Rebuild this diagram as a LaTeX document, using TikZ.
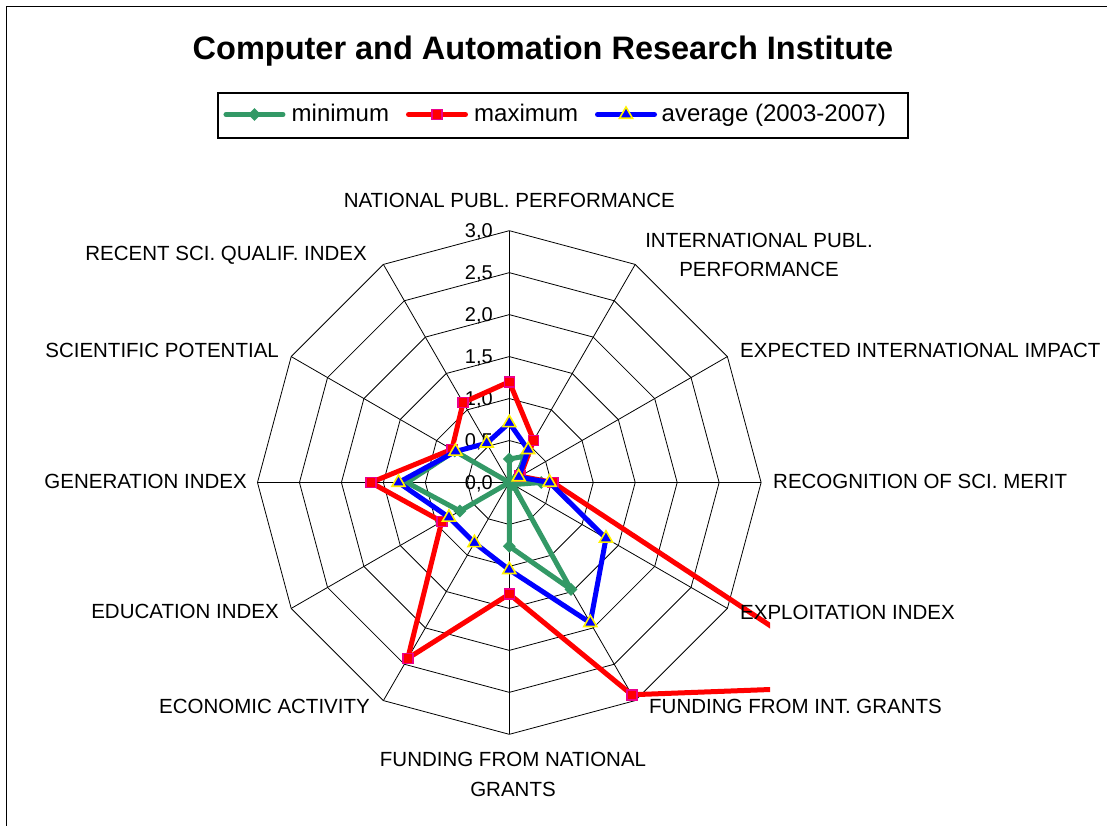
\documentclass[tikz,border=0pt]{standalone}
\usepackage{fontspec}
\setmainfont{Liberation Sans}
\usetikzlibrary{shapes.geometric}
\usetikzlibrary{positioning}
\definecolor{mingreen}{RGB}{51,153,102}
\tikzset{
    gridline/.style={
           draw=black,
           line width=0.8pt,
           },
    axislabel/.style={
           font=\fontsize{20.5}{29.5}\selectfont,
           inner sep=0pt,
           align=center,
           },
    ticklabel/.style={
           font=\fontsize{20}{24}\selectfont,
           inner sep=0pt,
           anchor=east,
           },
    legendtext/.style={
           font=\fontsize{24}{28}\selectfont,
           inner sep=0pt,
           anchor=base west,
           },
    minline/.style={draw=mingreen, line width=5pt, line join=round, line cap=round},
    maxline/.style={draw=red, line width=5pt, line join=round, line cap=round},
    avgline/.style={draw=blue, line width=5pt, line join=round, line cap=round},
    mindot/.style={diamond, fill=mingreen, inner sep=0pt, minimum size=13pt},
    maxdot/.style={rectangle, fill=red, draw=magenta, line width=1.6pt,
           inner sep=0pt, minimum size=10pt},
    avgdot/.style={regular polygon, regular polygon sides=3, fill=blue, draw=yellow,
           line width=1.6pt, inner sep=0pt, minimum size=15pt},
}

\begin{document}
\begin{tikzpicture}[x=1pt,y=1pt]
  \useasboundingbox (-509.3,-342.5) rectangle (597.7,482.5);

  % chart frame (only top and left edge lie on the page)
  \draw[line width=1.6pt] (-502.6,-400) |- (700,475.8);

  % title
  \node[font=\fontsize{32.5}{38}\selectfont\bfseries, anchor=base] (TITLE) at (33.7,423.4)
    {Computer and Automation Research Institute};

  % legend
  \node[draw=black, line width=1.2pt, minimum width=690pt, minimum height=45pt,
        inner sep=0pt] (LEGEND) at (53.7,367) {};
  \coordinate (KEYMIN) at (-254.8,368);
  \coordinate (KEYMAX) at (-72.3,368);
  \coordinate (KEYAVG) at (116.7,368);
  \draw[minline] ([xshift=-28.5]KEYMIN) -- ([xshift=28.5]KEYMIN);
  \node[mindot] (KEYMINDOT) at (KEYMIN) {};
  \draw[maxline] ([xshift=-28.5]KEYMAX) -- ([xshift=28.5]KEYMAX);
  \node[maxdot] (KEYMAXDOT) at (KEYMAX) {};
  \draw[avgline] ([xshift=-28.5]KEYAVG) -- ([xshift=28.5]KEYAVG);
  \node[avgdot] (KEYAVGDOT) at (KEYAVG) {};
  \node[legendtext] (MINTEXT) at (-217.8,361) {minimum};
  \node[legendtext] (MAXTEXT) at (-35.3,361) {maximum};
  \node[legendtext] (AVGTEXT) at (152.2,361) {average (2003-2007)};

  % grid: 12 spokes, rings every 0,5
  \coordinate (C) at (0,0);
  \foreach \k in {0,...,11}
    \coordinate (V\k) at ({90-30*\k}:251.8);
  \foreach \r in {1,...,6}
    \draw[gridline] (90:{\r*41.97}) \foreach \k in {1,...,11} {-- ({90-30*\k}:{\r*41.97})} -- cycle;
  \foreach \k in {0,...,11}
    \draw[gridline] (C) -- (V\k);

  \foreach \k/\a/\b in {0/0/0,1/0/5,2/1/0,3/1/5,4/2/0,5/2/5,6/3/0}
    \node[ticklabel] (TICK\k) at (-16.3,{\k*41.97-1.5}) {\a,\b};

  % data points
  \foreach \v [count=\k from 0] in {0.28,0.36,0.1,0.38,0.05,1.47,0.76,0,0.68,1.22,0.75,0}
    \coordinate (MIN\k) at ({90-30*\k}:{\v*83.93});
  \foreach \v [count=\k from 0] in {1.20,0.58,0.15,0.52,4.85,2.92,1.33,2.42,0.93,1.65,0.79,1.10}
    \coordinate (MAX\k) at ({90-30*\k}:{\v*83.93});
  \foreach \v [count=\k from 0] in {0.71,0.45,0.13,0.48,1.33,1.93,1.04,0.83,0.83,1.32,0.74,0.54}
    \coordinate (AVG\k) at ({90-30*\k}:{\v*83.93});

  % series, each line with its markers
  \draw[minline] (MIN0) \foreach \k in {1,...,11} {-- (MIN\k)} -- cycle;
  \foreach \k in {0,...,11}
    \node[mindot] (MINDOT\k) at (MIN\k) {};

  \begin{scope}
    % plot area ends at the right
    \clip (-509.3,-342.5) rectangle (260.7,482.5);
    \draw[maxline] (MAX0) \foreach \k in {1,...,11} {-- (MAX\k)} -- cycle;
    \foreach \k in {0,...,11}
      \node[maxdot] (MAXDOT\k) at (MAX\k) {};
  \end{scope}

  \draw[avgline] (AVG0) \foreach \k in {1,...,11} {-- (AVG\k)} -- cycle;
  \foreach \k in {0,...,11}
    \node[avgdot] (AVGDOT\k) at (AVG\k) {};

  % axis labels
  \node[axislabel, above=23pt of V0] (NATPUBL) {NATIONAL PUBL. PERFORMANCE};
  \node[axislabel] (INTPUBL) at ([shift={(123.8,9.4)}]V1) {INTERNATIONAL PUBL.\\PERFORMANCE};
  \node[axislabel, anchor=west] (EXPIMPACT) at ([shift={(12.6,6.6)}]V2) {EXPECTED INTERNATIONAL IMPACT};
  \node[axislabel, anchor=west] (RECOGNITION) at ([shift={(11.9,1.5)}]V3) {RECOGNITION OF SCI. MERIT};
  \node[axislabel, anchor=west] (EXPLOITATION) at ([shift={(12.6,-4)}]V4) {EXPLOITATION INDEX};
  \node[axislabel, anchor=west] (INTGRANTS) at ([shift={(13.8,-6.1)}]V5) {FUNDING FROM INT. GRANTS};
  \node[axislabel] (NATGRANTS) at ([shift={(3.7,-40.2)}]V6) {FUNDING FROM NATIONAL\\GRANTS};
  \node[axislabel, anchor=east] (ECONOMIC) at ([shift={(-13.4,-5.4)}]V7) {ECONOMIC ACTIVITY};
  \node[axislabel, anchor=east] (EDUCATION) at ([shift={(-12.2,-3.3)}]V8) {EDUCATION INDEX};
  \node[axislabel, anchor=east] (GENERATION) at ([shift={(-10.5,1.5)}]V9) {GENERATION INDEX};
  \node[axislabel, anchor=east] (SCIPOT) at ([shift={(-12.2,6.6)}]V10) {SCIENTIFIC POTENTIAL};
  \node[axislabel, anchor=east] (RECENTSCI) at ([shift={(-16.4,9.4)}]V11) {RECENT SCI. QUALIF. INDEX};
\end{tikzpicture}
\end{document}
